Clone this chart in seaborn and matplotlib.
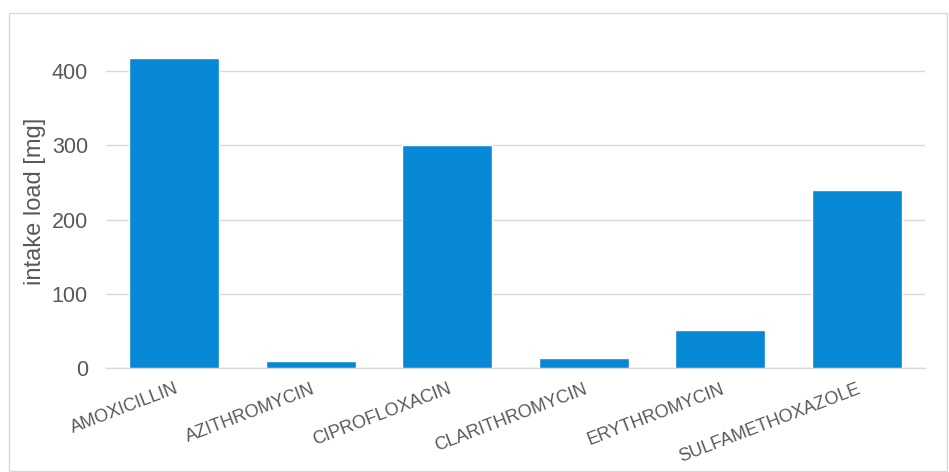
import matplotlib
matplotlib.use("Agg")
import matplotlib.pyplot as plt
import seaborn as sns
import pandas as pd
from matplotlib.patches import Rectangle

categories = ["AMOXICILLIN", "AZITHROMYCIN", "CIPROFLOXACIN", "CLARITHROMYCIN", "ERYTHROMYCIN", "SULFAMETHOXAZOLE"]
values = [417, 10, 300, 14, 51, 240]
yticks = [0, 100, 200, 300, 400]

df = pd.DataFrame({"drug": categories, "load": values})

sns.set_style("white")
plt.rcParams['font.family'] = ['Liberation Sans', 'DejaVu Sans']

fig = plt.figure(figsize=(9.49, 4.72), dpi=100)
ax = fig.add_axes([106/949, 1 - 368/472, (925-106)/949, (368-34)/472])

sns.barplot(data=df, x="drug", y="load", color="#0788D5", saturation=1, width=0.66, ax=ax, zorder=3)

ax.set_ylim(0, 450)
ax.set_yticks(yticks)
ax.yaxis.grid(True, color="#D9D9D9", linewidth=1, zorder=0)
ax.set_xlim(-0.5, len(categories) - 0.5)
for s in ["top", "right", "left"]:
    ax.spines[s].set_visible(False)
ax.spines["bottom"].set_color("#D9D9D9")
ax.spines["bottom"].set_linewidth(1)
ax.tick_params(axis="both", length=0, colors="#595959")
ax.tick_params(axis="y", labelsize=15.5, pad=13)
ax.set_xlabel("")
ax.set_ylabel("intake load [mg]", fontsize=17, color="#595959", labelpad=4)
for lbl in ax.get_xticklabels():
    lbl.set_rotation(21)
    lbl.set_ha("right")
    lbl.set_rotation_mode("anchor")
    lbl.set_fontsize(13)
ax.tick_params(axis="x", pad=9)

fig.patches.append(Rectangle((9/949, 0.002), (947-9)/949, 1 - 13/472 - 0.002, transform=fig.transFigure,
                             fill=False, edgecolor="#D9D9D9", linewidth=1))

fig.savefig("out.png", dpi=100)
